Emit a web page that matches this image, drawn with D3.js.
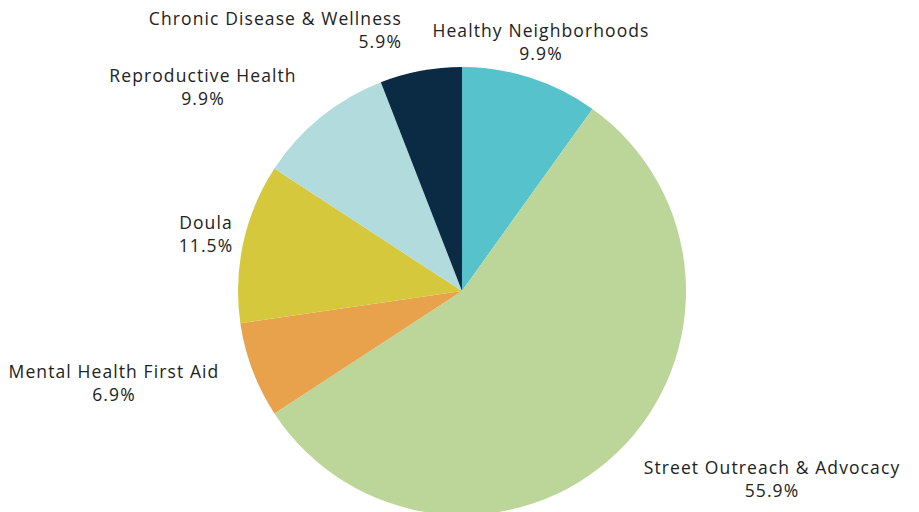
<!DOCTYPE html>
<html><head><meta charset="utf-8">
<script src="https://cdn.jsdelivr.net/npm/d3@7"></script>
<style>html,body{margin:0;padding:0;background:#fff;}svg{display:block;}</style>
</head><body><svg id="chart" width="919" height="512"></svg>
<script>
const categories = ["Healthy Neighborhoods","Street Outreach & Advocacy","Mental Health First Aid","Doula","Reproductive Health","Chronic Disease & Wellness"];
const values = [9.9, 55.9, 6.9, 11.5, 9.9, 5.9];
const colors = ["#56C2CB","#BBD698","#E8A24B","#D6C83D","#B2DBDD","#0B2A44"];
// label layout: [x, baseline y of first line, anchor]
const labelLayout = [
  [541, 37, "middle"],
  [772, 474, "middle"],
  [114, 378, "middle"],
  [206, 229, "middle"],
  [203, 82, "middle"],
  [402, 25, "end"]
];

const svg = d3.select("#chart");
const cx = 462, cy = 291, R = 224;
const pie = d3.pie().sort(null).value(d => d.v);
const arc = d3.arc().innerRadius(0).outerRadius(R);
const data = categories.map((c,i)=>({c, v: values[i], col: colors[i]}));
const g = svg.append("g").attr("transform",`translate(${cx},${cy})`);
g.selectAll("path").data(pie(data)).join("path")
  .attr("d", arc).attr("fill", d => d.data.col);

const labels = svg.append("g").attr("font-family","'Open Sans', sans-serif")
  .attr("font-size", 17.5).attr("fill","#222");
data.forEach((d,i)=>{
  const [x,y,a] = labelLayout[i];
  const t = labels.append("text").attr("text-anchor", a).attr("letter-spacing", 1.1);
  t.append("tspan").attr("x", x).attr("y", y).text(d.c);
  t.append("tspan").attr("x", x).attr("y", y + 23).text(d3.format(".1f")(d.v) + "%");
});
</script></body></html>
